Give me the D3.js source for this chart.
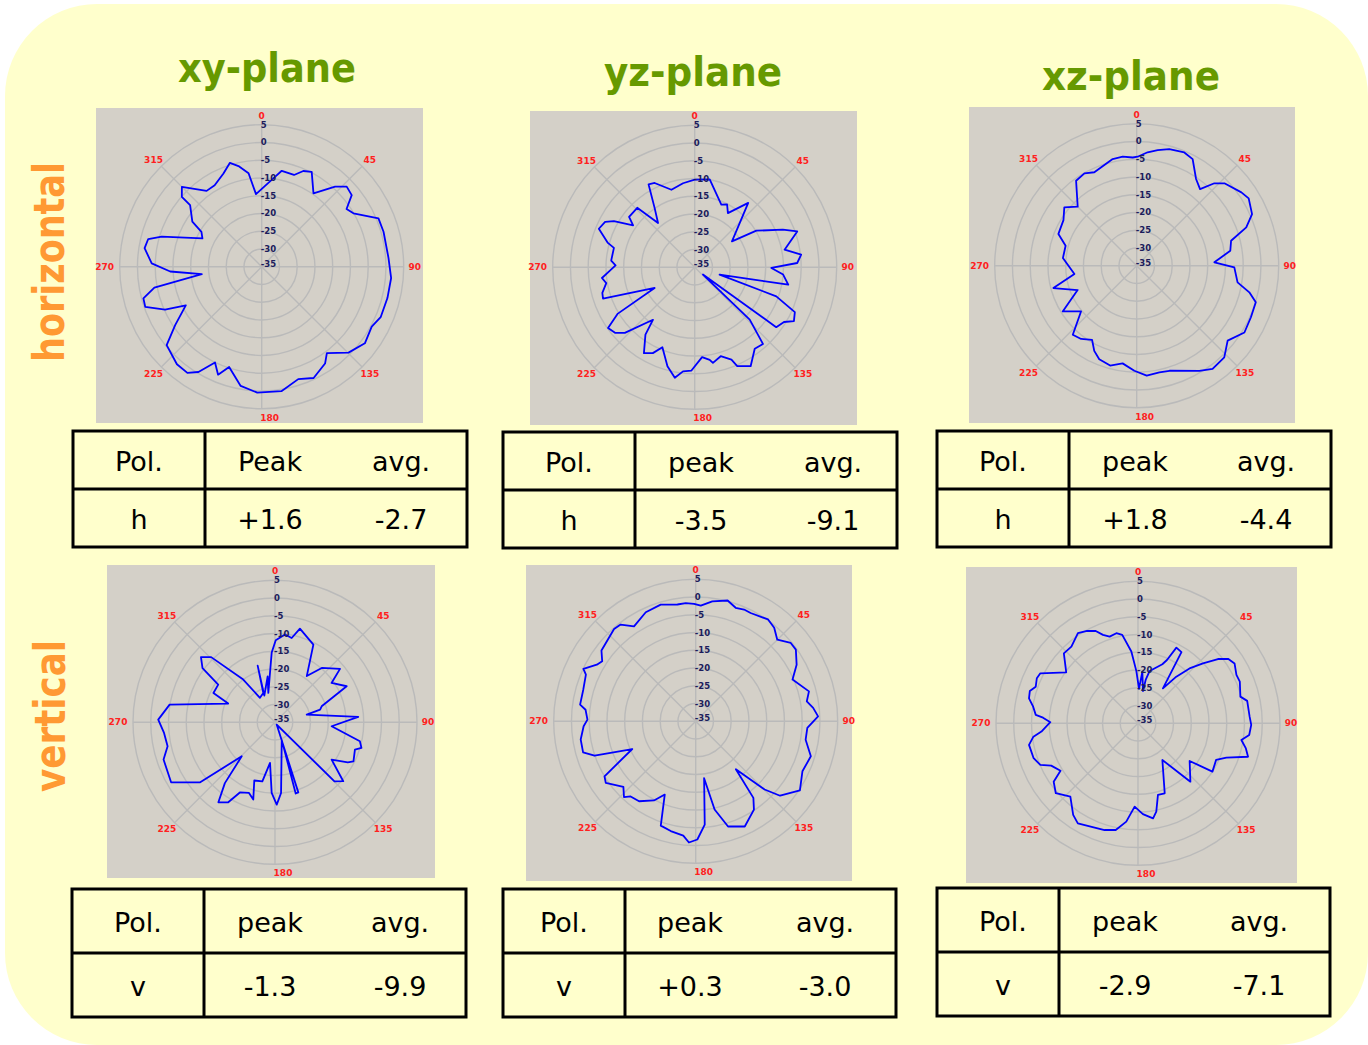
<!DOCTYPE html>
<html>
<head>
<meta charset="utf-8">
<script src="https://cdn.jsdelivr.net/npm/d3@7"></script>
<style>
  body { margin: 0; background: #fff; }
</style>
</head>
<body>
<svg id="chart"></svg>
<script>
// ---- data: angle (deg, clockwise from top) and level (dB) ----
var xyH_ang = [355.5, 8.4, 11.8, 19.4, 23.5, 27.8, 35.2, 42.5, 46.7, 51.5, 55.8, 59.8, 67.5, 74, 86, 95, 104, 113, 118.6, 126.6, 134.7, 143, 146.8, 155, 162, 171, 182, 190, 198, 202, 206, 211, 215, 221, 230.5, 236, 243, 246, 251, 255, 259, 263, 267, 271.7, 279, 283.7, 286.7, 295.5, 300, 303, 310.7, 311.2, 315, 324, 330, 337.7, 343, 347, 352];
var xyH_db  = [-14.5, -9.4, -7.4, -7.6, -5.6, -4.8, -9.7, -4.4, -2.1, -2.6, -6.1, -5.1, 0.6, 0.7, 0.8, 1.6, 1.5, 1.4, 0.3, 1.2, -0.6, -4.5, -2.4, -0.4, -1.7, 0.5, 0.5, -0.9, -5.3, -2.2, -5.0, -0.4, 1.5, 1.4, -0.3, -5.6, -11, -5.2, -0.3, -0.5, -4.2, -18, -9.2, -4, -1.6, -2.1, -5.6, -16.5, -15.4, -11.7, -8.4, -5.1, -3.2, -8.6, -8.5, -6.6, -4.4, -5.9, -8.4];

var yzH_ang = [0, 9.7, 23, 27.3, 31.5, 39.7, 55.1, 59.3, 66.9, 70.7, 78.9, 83.2, 87.6, 90.5, 94.7, 100.5, 106.3, 109.6, 114.1, 118.5, 121.5, 126.3, 131.3, 133.6, 138.3, 143.6, 150.5, 156.7, 158.3, 163.7, 169.2, 170.8, 175.3, 181.8, 186.4, 190.2, 195.4, 202, 206, 210.6, 216.2, 218.5, 226.8, 230.4, 235, 238.9, 242.7, 251.1, 254.5, 259.9, 263.4, 267.8, 271.4, 274.6, 283.5, 285.7, 291.9, 296.9, 299.7, 304.3, 307.5, 316, 320.4, 326, 330.9, 334.6, 343.3, 352.1];
var yzH_db  = [-10.3, -9.9, -15.8, -15.1, -17.1, -11.4, -22.2, -14.8, -8.0, -4.4, -9.2, -4.8, -6.1, -13.4, -10.0, -8.2, -27.7, -10.6, -4.1, -3.2, -5.5, -6.5, -31.9, -13.6, -6.1, -6.5, -3.0, -4.7, -7.0, -8.9, -7.6, -8.6, -9.6, -5.9, -5.5, -3.4, -6.1, -10.7, -8.1, -6.9, -11.5, -16.1, -8.0, -6.0, -5.2, -9.6, -22.3, -7.7, -8.0, -9.7, -8.7, -11.1, -12.7, -11.4, -11.6, -9.6, -5.9, -6.7, -8.8, -14.0, -11.7, -11.7, -18.8, -14.8, -8.3, -8.7, -12.2, -11.1];

var xzH_ang = [0.5, 5.5, 10.3, 15.6, 22.8, 27.7, 34.4, 39.6, 43.3, 46.8, 55, 59, 65.9, 70.7, 75.2, 80.9, 87.5, 91, 99.4, 103.3, 107.1, 114.3, 121.8, 129.5, 136.3, 143.7, 149.2, 162.7, 168, 174.8, 181.3, 188.2, 194.9, 201.8, 206.5, 211, 217.2, 222.8, 230.6, 238.3, 247.6, 255, 262.4, 275.9, 285.7, 292.1, 301.9, 308.9, 315, 324.5, 330.5, 335.6, 347.3, 352.7, 357.9];
var xzH_db  = [-4.3, -2.9, -1.9, -0.9, -0.4, -1.1, -5.4, -7.0, -3.1, -1.1, 1.0, 1.8, 0.6, -2.3, -7.5, -8.3, -13.1, -7.5, -6.2, -2.4, 0.1, 0.3, 0.7, -1.8, 0.7, 1.1, -0.5, -4.0, -4.3, -3.9, -5.4, -7.2, -5.9, -6.6, -8.2, -10.6, -9.1, -8.5, -14.7, -10.5, -17.0, -10.7, -17.3, -14.1, -14.2, -11.2, -10.7, -8.8, -11.5, -5.6, -5.1, -6.1, -4.2, -4.0, -4.5];

var xyV_ang = [0.5, 6.5, 11.2, 14.9, 26.3, 34.5, 40.7, 50.6, 55.2, 63.3, 71.1, 74.3, 76.4, 86.3, 94, 102.6, 106.5, 108.9, 116.5, 118.8, 123.4, 130.8, 134.8, 144, 161.6, 163.8, 159, 175.1, 178.8, 182.7, 187, 192.1, 199.6, 195.7, 200.2, 206.6, 210.3, 215.3, 219.5, 224.4, 231.3, 240, 251.5, 257.4, 264.5, 271.3, 279.5, 291.8, 295.4, 303.6, 306.8, 311.4, 315.6, 323.4, 328.4, 338.3, 343, 338.2, 350.9, 347.2, 357.3];
var xyV_db  = [-11.9, -10.1, -10.8, -7.7, -10.6, -19.2, -14.8, -11.3, -15.6, -12.4, -21.1, -21.8, -25.8, -11.5, -19.0, -10.5, -9.6, -11.2, -10.3, -11.6, -15.9, -9.6, -11.4, -34.2, -14.2, -14.1, -29.7, -15.0, -11.8, -15.1, -23.5, -18.0, -17.6, -12.4, -13.8, -12.9, -8.9, -7.4, -12.8, -21.6, -8.0, -1.2, -1.9, -4.0, -3.6, -2.1, -4.9, -20.8, -15.8, -15.8, -9.5, -7.2, -9.3, -20.0, -26.9, -26.1, -18.3, -26.9, -21.9, -26.5, -15.3];

var yzV_ang = [2.5, 7.9, 14.8, 19.4, 23.4, 26.9, 35.4, 40, 45, 50.5, 54.4, 60.7, 66.7, 75.2, 79.8, 83.5, 87.7, 93.4, 99.5, 106.9, 115.1, 123.5, 131.4, 134.7, 140, 143, 146.6, 155, 162.9, 167.9, 171.6, 175, 179.2, 183.2, 186.2, 192.8, 198.5, 202.9, 207.8, 215.3, 220.9, 223.4, 227.8, 235.6, 238.9, 246.4, 251.2, 254.6, 261, 267.5, 270.9, 276, 278.2, 285.7, 293, 295, 299.8, 302.7, 306.9, 318.5, 322.2, 327, 335.4, 343.3, 351.1, 355.2, 359.2];
var yzV_db  = [-2.4, -0.9, 0.2, -1.1, -0.7, -0.8, 0.2, -0.6, -2.5, -0.3, -0.3, -2.4, -5.3, -2.0, -3.2, -1.7, -0.5, -3.5, -3.6, -1.1, -1.8, 0.2, -3.3, -7.7, -17.4, -8.0, -5.2, -2.3, -4.0, -9.6, -18.8, -5.8, -1.7, -0.8, -2.6, -3.3, -4.0, -12.6, -9.8, -7.4, -7.0, -5.6, -7.5, -4.3, -5.0, -15.5, -4.9, -2.1, -2.2, -3.4, -4.5, -3.8, -2.1, -2.1, -1.4, -0.1, -2.9, -3.7, -1.8, -0.3, -0.5, -3.1, -1.2, -0.7, -1.7, -1.6, -1.9];

var xzV_ang = [1.7, 4.8, 8.8, 10, 12.6, 22.4, 24.6, 26.9, 31.4, 35.5, 39.4, 43.2, 47.3, 51.2, 54.4, 58.2, 63.8, 67.7, 75.4, 78.4, 86.6, 90.8, 96, 99.2, 103.1, 106.9, 111.2, 115.1, 123, 126.1, 138.1, 146.4, 159.1, 164.4, 168.3, 171, 176.9, 182.3, 186.8, 191.8, 197.4, 211, 215.3, 222.7, 229.6, 235.3, 238.5, 244, 246.9, 251.5, 258.8, 262.7, 265.1, 270.7, 273.4, 274.7, 279, 282.9, 286.6, 289.7, 294, 297.1, 305.4, 313.3, 319, 326.3, 331.1, 335.4, 338.4, 341.9, 346.5, 349.9, 354.7, 358.2];
var xzV_db  = [-25.3, -20.4, -25.8, -22.6, -19.9, -17.0, -15.4, -11.1, -11.5, -22.9, -18.0, -13.8, -10.1, -6.1, -3.8, -3.0, -4.1, -4.0, -5.2, -3.6, -3.5, -3.1, -3.5, -5.5, -3.8, -2.6, -8.3, -10.7, -10.0, -17.0, -12.9, -22.6, -13.9, -14.1, -9.6, -7.9, -9.4, -11.5, -7.1, -4.3, -3.5, -2.1, -3.4, -6.9, -4.6, -6.1, -9.4, -7.8, -5.1, -4.0, -3.7, -5.3, -7.7, -10.3, -8.2, -6.1, -5.1, -3.5, -3.2, -4.4, -3.8, -4.1, -10.2, -6.3, -6.4, -4.5, -5.3, -6.4, -8.2, -9.3, -8.9, -9.7, -14.7, -20.3];

// axis ticks
var dbTicks  = [5, 0, -5, -10, -15, -20, -25, -30, -35];
var angTicks = [0, 45, 90, 135, 180, 225, 270, 315];

// tables
var planes   = ["xy-plane", "yz-plane", "xz-plane"];
var rowNames = ["horizontal", "vertical"];
var polNames = ["h", "v"];
var peakHead = [["Peak", "peak", "peak"], ["peak", "peak", "peak"]];
var peakVals = [["+1.6", "-3.5", "+1.8"], ["-1.3", "+0.3", "-2.9"]];
var avgVals  = [["-2.7", "-9.1", "-4.4"], ["-9.9", "-3.0", "-7.1"]];

// ---- layout ----
var width = 1368, height = 1045;

var panels = [
  {ang: xyH_ang, db: xyH_db, x: 96,  y: 108, w: 327, h: 315, cx: 261.7,  cy: 266.7},
  {ang: yzH_ang, db: yzH_db, x: 530, y: 111, w: 327, h: 314, cx: 694.7,  cy: 267.3},
  {ang: xzH_ang, db: xzH_db, x: 969, y: 107, w: 326, h: 316, cx: 1136.7, cy: 265.7},
  {ang: xyV_ang, db: xyV_db, x: 107, y: 565, w: 328, h: 313, cx: 275,    cy: 722.3},
  {ang: yzV_ang, db: yzV_db, x: 526, y: 565, w: 326, h: 316, cx: 695.7,  cy: 721.3},
  {ang: xzV_ang, db: xzV_db, x: 966, y: 567, w: 331, h: 316, cx: 1138,   cy: 723.3}
];

var tables = [
  {x: 73,  y: 431, w: 394, h: 116, div: 205,  mid: 489, cols: [139, 270, 401]},
  {x: 503, y: 432, w: 394, h: 116, div: 635,  mid: 490, cols: [569, 701, 833]},
  {x: 937, y: 431, w: 394, h: 116, div: 1069, mid: 489, cols: [1003, 1135, 1266]},
  {x: 72,  y: 889, w: 394, h: 128, div: 204,  mid: 953, cols: [138, 270, 400]},
  {x: 503, y: 889, w: 393, h: 128, div: 625,  mid: 953, cols: [564, 690, 825]},
  {x: 937, y: 888, w: 393, h: 128, div: 1059, mid: 952, cols: [1003, 1125, 1259]}
];

var titleX = [267, 693, 1131], titleY = [82, 86, 90];
var angLabelDx = [0, 0, 0, 0, 8, 0, -4, 0];

var svg = d3.select("#chart")
  .attr("width", width)
  .attr("height", height);

// yellow rounded background
svg.append("rect")
  .attr("x", 5).attr("y", 4)
  .attr("width", 1363).attr("height", 1041)
  .attr("rx", 92).attr("ry", 92)
  .attr("fill", "#ffffcc");

// titles
svg.selectAll(".title")
  .data(planes)
  .enter()
  .append("text")
  .attr("class", "title")
  .attr("x", function(d, i) { return titleX[i]; })
  .attr("y", function(d, i) { return titleY[i]; })
  .attr("text-anchor", "middle")
  .attr("textLength", 178)
  .attr("lengthAdjust", "spacingAndGlyphs")
  .style("font-family", "'Comic Sans MS', 'DejaVu Sans', sans-serif")
  .style("font-weight", "bold")
  .style("font-size", "40px")
  .style("fill", "#669900")
  .text(function(d) { return d; });

// row labels on the left
var sideY = [262, 716], sideX = [64, 65], sideLen = [200, 152];
svg.selectAll(".side")
  .data(rowNames)
  .enter()
  .append("text")
  .attr("class", "side")
  .attr("transform", function(d, i) { return "translate(" + sideX[i] + "," + sideY[i] + ") rotate(-90)"; })
  .attr("text-anchor", "middle")
  .attr("textLength", function(d, i) { return sideLen[i]; })
  .attr("lengthAdjust", "spacingAndGlyphs")
  .style("font-family", "'Comic Sans MS', 'DejaVu Sans', sans-serif")
  .style("font-weight", "bold")
  .style("font-size", "42px")
  .style("fill", "#ff9933")
  .text(function(d) { return d; });

// radial scale, same for every plot
var r = d3.scaleLinear().domain([-35, 5]).range([0, 142]);

var line = d3.lineRadial()
  .angle(function(d) { return d[0] * Math.PI / 180; })
  .radius(function(d) { return r(d[1]); })
  .curve(d3.curveLinearClosed);

panels.forEach(function(p) {
  svg.append("rect")
    .attr("x", p.x).attr("y", p.y)
    .attr("width", p.w).attr("height", p.h)
    .attr("fill", "#d4d0c8");

  var g = svg.append("g")
    .attr("transform", "translate(" + p.cx + "," + p.cy + ")");

  // rings
  g.selectAll(".ring")
    .data(dbTicks.filter(function(v) { return v > -35; }))
    .enter()
    .append("circle")
    .attr("r", function(v) { return r(v); })
    .attr("fill", "none")
    .attr("stroke", "#bababa")
    .attr("stroke-width", 1.4);

  // spokes
  g.selectAll(".spoke")
    .data(angTicks)
    .enter()
    .append("line")
    .attr("x1", 0).attr("y1", 0)
    .attr("x2", function(a) { return r(5) * Math.sin(a * Math.PI / 180); })
    .attr("y2", function(a) { return -r(5) * Math.cos(a * Math.PI / 180); })
    .attr("stroke", "#bababa")
    .attr("stroke-width", 1.4);

  // pattern
  var pts = p.ang.map(function(a, i) { return [a, p.db[i]]; });
  g.append("path")
    .attr("d", line(pts))
    .attr("fill", "none")
    .attr("stroke", "#0000ff")
    .attr("stroke-width", 1.8)
    .attr("stroke-linejoin", "round");

  // dB labels
  g.selectAll(".dbl")
    .data(dbTicks)
    .enter()
    .append("text")
    .attr("x", -1)
    .attr("y", function(v) { return -Math.max(r(v), 3); })
    .attr("dy", "0.35em")
    .style("font-family", "'DejaVu Sans', sans-serif")
    .style("font-weight", "bold")
    .style("font-size", "8.5px")
    .style("fill", "#1c1c5c")
    .text(function(v) { return v; });

  // angle labels
  g.selectAll(".angl")
    .data(angTicks)
    .enter()
    .append("text")
    .attr("x", function(a, i) { return 153 * Math.sin(a * Math.PI / 180) + angLabelDx[i]; })
    .attr("y", function(a) { return -151 * Math.cos(a * Math.PI / 180); })
    .attr("dy", "0.35em")
    .attr("text-anchor", "middle")
    .style("font-family", "'DejaVu Sans', sans-serif")
    .style("font-weight", "bold")
    .style("font-size", "9px")
    .style("fill", "#ff2020")
    .text(function(a) { return a; });
});

// tables
tables.forEach(function(t, i) {
  var row = Math.floor(i / 3), col = i % 3;
  var g = svg.append("g");
  g.append("rect")
    .attr("x", t.x).attr("y", t.y)
    .attr("width", t.w).attr("height", t.h)
    .attr("fill", "none")
    .attr("stroke", "#000")
    .attr("stroke-width", 3);
  g.append("line")
    .attr("x1", t.div).attr("x2", t.div)
    .attr("y1", t.y).attr("y2", t.y + t.h)
    .attr("stroke", "#000").attr("stroke-width", 3);
  g.append("line")
    .attr("x1", t.x).attr("x2", t.x + t.w)
    .attr("y1", t.mid).attr("y2", t.mid)
    .attr("stroke", "#000").attr("stroke-width", 3);

  var cells = [
    ["Pol.", peakHead[row][col], "avg."],
    [polNames[row], peakVals[row][col], avgVals[row][col]]
  ];
  var rowY = [(t.y + t.mid) / 2, (t.mid + t.y + t.h) / 2];
  cells.forEach(function(c, ri) {
    g.selectAll(".c" + ri)
      .data(c)
      .enter()
      .append("text")
      .attr("x", function(d, k) { return t.cols[k]; })
      .attr("y", rowY[ri] + 1)
      .attr("dy", "0.36em")
      .attr("text-anchor", "middle")
      .style("font-family", "'Comic Sans MS', 'DejaVu Sans', sans-serif")
      .style("font-size", "27px")
      .style("fill", "#000")
      .text(function(d) { return d; });
  });
});
</script>
</body>
</html>
